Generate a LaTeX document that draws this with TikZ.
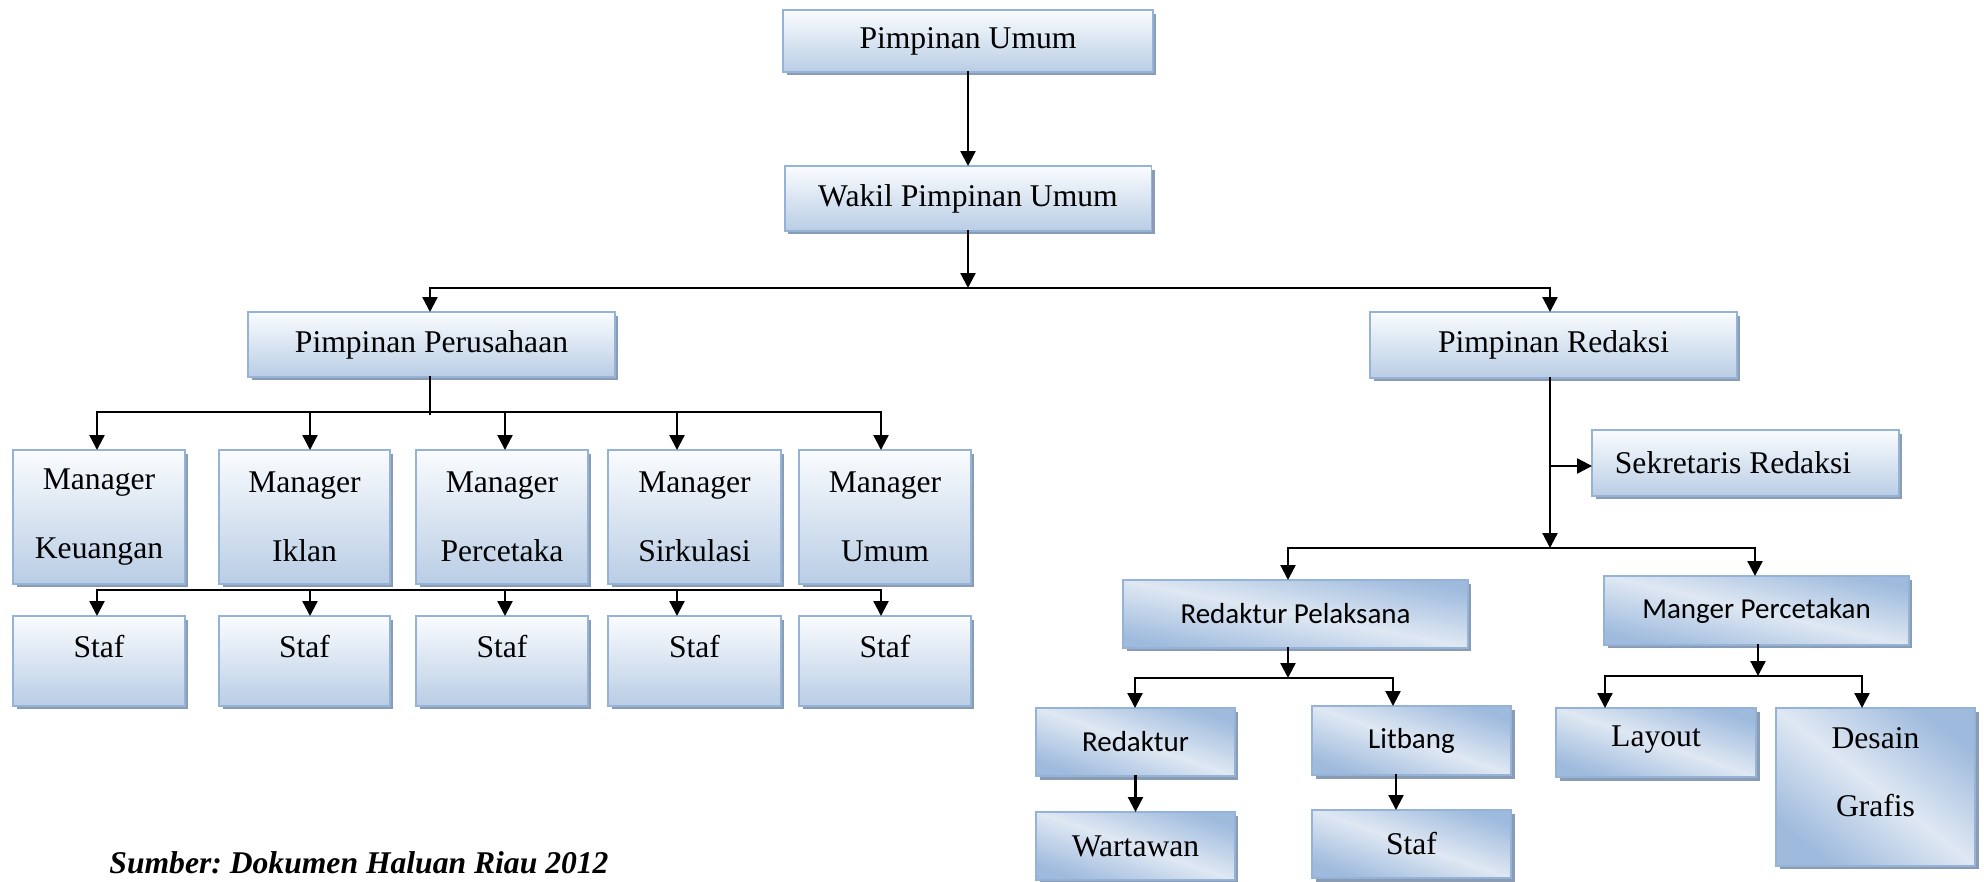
\documentclass[tikz,border=0pt]{standalone}
\usepackage{fontspec}
\setmainfont{Liberation Serif}
\newfontfamily\calibri{Carlito}
\usetikzlibrary{arrows.meta,shadows}
\definecolor{boxline}{HTML}{95B3D7}
\definecolor{boxtop}{HTML}{FAFCFE}
\definecolor{boxbot}{HTML}{B9CDE5}
\definecolor{boxdark}{HTML}{9EBADD}
\definecolor{boxlight}{HTML}{DFE8F3}
\definecolor{boxshadow}{HTML}{8A9BB4}

\begin{document}
\begin{tikzpicture}[x=0.02cm,y=-0.02cm,line width=1.3pt,line cap=rect,
	orgbox/.style={draw=boxline, line width=1.1pt, inner sep=0pt, outer sep=0pt, align=center,
		font=\fontsize{18}{39}\selectfont,
		drop shadow={shadow xshift=0.07cm, shadow yshift=-0.07cm, fill=boxshadow, opacity=1}},
	vgrad/.style={orgbox, top color=boxtop, bottom color=boxbot},
	dgrad/.style={orgbox, left color=boxdark, right color=boxdark, middle color=boxlight, shading angle=#1},
	sans/.style={font=\calibri\fontsize{16.5}{30}\selectfont},
	arr/.style={-{Triangle[length=0.3cm,width=0.3cm]}}]
	\useasboundingbox (0,0) rectangle (1984,882);
	
	\node[vgrad, minimum width=7.4cm, minimum height=1.24cm] (v1) at (968,41) {Pimpinan Umum};
	\node[vgrad, minimum width=7.34cm, minimum height=1.3cm] (v2) at (968,198.5) {Wakil Pimpinan Umum};
	\node[vgrad, minimum width=7.34cm, minimum height=1.3cm] (v3) at (431.5,344.5) {Pimpinan Perusahaan};
	\node[vgrad, minimum width=7.34cm, minimum height=1.32cm] (v4) at (1553.5,345) {Pimpinan Redaksi};
	
	\node[vgrad, minimum width=3.44cm, minimum height=2.68cm] (v5) at (99,517) {Manager\\Keuangan};
	\node[vgrad, minimum width=3.42cm, minimum height=2.68cm] (v6) at (304.5,517) {Manager\\Iklan};
	\node[vgrad, minimum width=3.44cm, minimum height=2.68cm] (v7) at (502,517) {Manager\\Percetaka};
	\node[vgrad, minimum width=3.46cm, minimum height=2.68cm] (v8) at (694.5,517) {Manager\\Sirkulasi};
	\node[vgrad, minimum width=3.44cm, minimum height=2.68cm] (v9) at (885,517) {Manager\\Umum};
	
	\node[vgrad, minimum width=3.44cm, minimum height=1.8cm, text depth=0.6cm] (v10) at (99,661) {Staf};
	\node[vgrad, minimum width=3.42cm, minimum height=1.8cm, text depth=0.6cm] (v11) at (304.5,661) {Staf};
	\node[vgrad, minimum width=3.44cm, minimum height=1.8cm, text depth=0.6cm] (v12) at (502,661) {Staf};
	\node[vgrad, minimum width=3.46cm, minimum height=1.8cm, text depth=0.6cm] (v13) at (694.5,661) {Staf};
	\node[vgrad, minimum width=3.44cm, minimum height=1.8cm, text depth=0.6cm] (v14) at (885,661) {Staf};
	
	\node[vgrad, minimum width=6.14cm, minimum height=1.32cm] (v15) at (1745.5,463) {Sekretaris Redaksi\hspace*{0.5cm}};
	\node[dgrad=-11, sans, minimum width=6.9cm, minimum height=1.36cm] (v16) at (1295.5,614) {Redaktur Pelaksana};
	\node[dgrad=-13, sans, minimum width=6.1cm, minimum height=1.38cm] (v17) at (1756.5,610.5) {Manger Percetakan};
	\node[dgrad=-19, sans, minimum width=3.98cm, minimum height=1.36cm] (v18) at (1135.5,742) {Redaktur};
	\node[dgrad=-19, sans, minimum width=3.98cm, minimum height=1.38cm] (v19) at (1411.5,740.5) {Litbang};
	\node[dgrad=-19, minimum width=3.98cm, minimum height=1.36cm] (v20) at (1135.5,846) {Wartawan};
	\node[dgrad=-19, minimum width=3.98cm, minimum height=1.36cm] (v21) at (1411.5,844) {Staf};
	\node[dgrad=-19, minimum width=4cm, minimum height=1.38cm, text depth=0.24cm] (v22) at (1656,742.5) {Layout};
	\node[dgrad=-38, minimum width=3.98cm, minimum height=3.16cm, text depth=0.6cm] (v23) at (1875.5,787) {Desain\\Grafis};
	
	\node[anchor=base, font=\frenchspacing\bfseries\itshape\fontsize{18}{22}\selectfont] (v24) at (359,873) {Sumber: Dokumen Haluan Riau 2012};
	
	\coordinate (v25) at (968,288);
	\coordinate (v26) at (430,288);
	\coordinate (v27) at (1550,288);
	\coordinate (v28) at (430,414);
	\coordinate (v29) at (97,412);
	\coordinate (v30) at (310,412);
	\coordinate (v31) at (505,412);
	\coordinate (v32) at (677,412);
	\coordinate (v33) at (881,412);
	\coordinate (v34) at (97,590);
	\coordinate (v35) at (310,590);
	\coordinate (v36) at (505,590);
	\coordinate (v37) at (677,590);
	\coordinate (v38) at (881,590);
	\coordinate (v39) at (1550,466);
	\coordinate (v40) at (1550,548);
	\coordinate (v41) at (1288,548);
	\coordinate (v42) at (1755,548);
	\coordinate (v43) at (1288,678);
	\coordinate (v44) at (1135,678);
	\coordinate (v45) at (1393,678);
	\coordinate (v46) at (1396,790);
	\coordinate (v47) at (1758,676);
	\coordinate (v48) at (1605,676);
	\coordinate (v49) at (1862,676);
	
	\draw[arr] (v1) -- (v2);
	\draw[arr] (v2) -- (v25);
	\draw (v26) -- (v27);
	\draw[arr] (v26) -- (v26 |- v3.north);
	\draw[arr] (v27) -- (v27 |- v4.north);
	
	\draw (v28 |- v3.south) -- (v28);
	\draw (v29) -- (v33);
	\draw[arr] (v29) -- (v29 |- v5.north);
	\draw[arr] (v30) -- (v30 |- v6.north);
	\draw[arr] (v31) -- (v31 |- v7.north);
	\draw[arr] (v32) -- (v32 |- v8.north);
	\draw[arr] (v33) -- (v33 |- v9.north);
	\draw (v34) -- (v38);
	\draw[arr] (v34) -- (v34 |- v10.north);
	\draw[arr] (v35) -- (v35 |- v11.north);
	\draw[arr] (v36) -- (v36 |- v12.north);
	\draw[arr] (v37) -- (v37 |- v13.north);
	\draw[arr] (v38) -- (v38 |- v14.north);
	
	\draw[arr] (v40 |- v4.south) -- (v40);
	\draw[arr] (v39) -- (v39 -| v15.west);
	\draw (v41) -- (v42);
	\draw[arr] (v41) -- (v41 |- v16.north);
	\draw[arr] (v42) -- (v42 |- v17.north);
	\draw[arr] (v43 |- v16.south) -- (v43);
	\draw (v44) -- (v45);
	\draw[arr] (v44) -- (v44 |- v18.north);
	\draw[arr] (v45) -- (v45 |- v19.north);
	\draw[arr] (v18) -- (v20);
	\draw[arr] (v46 |- v19.south) -- (v46 |- v21.north);
	\draw[arr] (v47 |- v17.south) -- (v47);
	\draw (v48) -- (v49);
	\draw[arr] (v48) -- (v48 |- v22.north);
	\draw[arr] (v49) -- (v49 |- v23.north);
\end{tikzpicture}
\end{document}
